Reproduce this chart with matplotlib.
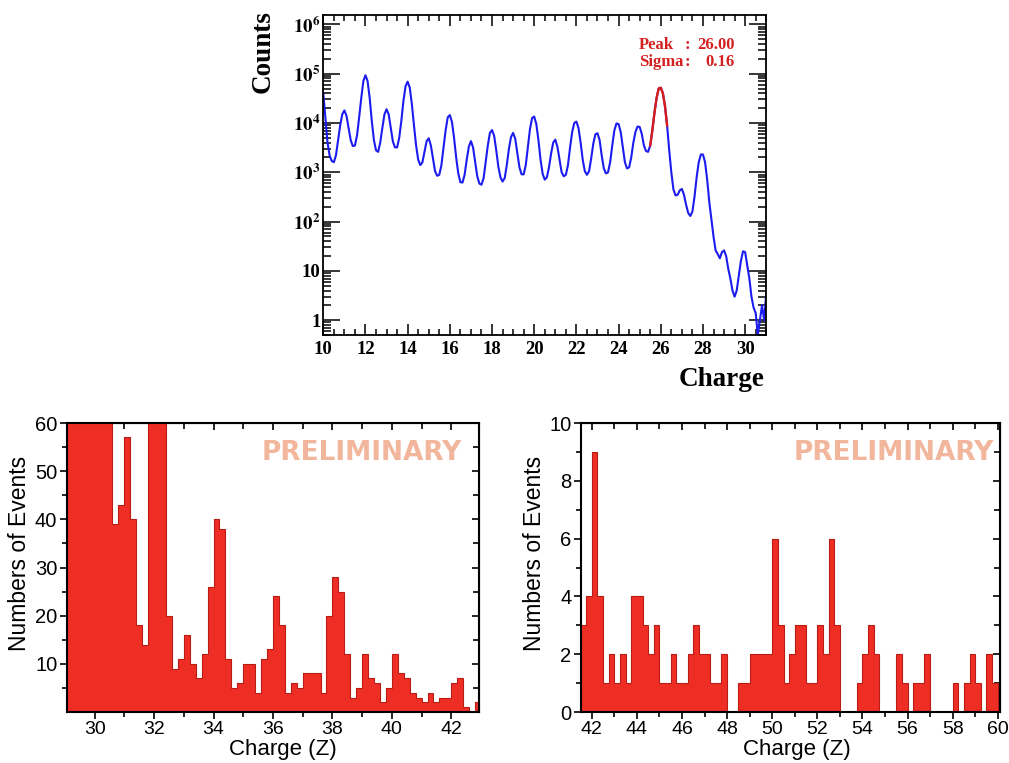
import numpy as np
import matplotlib.pyplot as plt
from matplotlib.ticker import MultipleLocator, LogLocator, NullFormatter

plt.rcParams['mathtext.fontset'] = 'stix'

# charge spectrum, counts sampled every 0.1 in charge from 10.0 to 31.0
counts_top = [
    41000, 13000, 4000, 2200, 1700, 1600, 2200, 4500, 8900, 15000,
    18000, 14000, 7900, 4500, 3400, 3500, 5600, 13000, 32000, 71000,
    93000, 71000, 32000, 11000, 4500, 2800, 2600, 4000, 7900, 15000,
    19000, 15000, 7900, 4200, 3200, 3200, 5000, 11000, 28000, 56000,
    69000, 52000, 24000, 8900, 3500, 1800, 1400, 1600, 2600, 4300,
    4900, 3500, 1900, 1050, 850, 890, 1400, 3200, 7100, 13000,
    14500, 10500, 5000, 2000, 950, 630, 620, 890, 1800, 3300,
    4300, 3200, 1600, 830, 590, 560, 760, 1600, 3500, 6300,
    7200, 5500, 2800, 1300, 790, 650, 760, 1400, 3000, 5200,
    6300, 4800, 2500, 1260, 910, 910, 1400, 3200, 7600, 12600,
    13500, 9500, 4500, 1800, 930, 710, 790, 1260, 2400, 4000,
    4600, 3300, 1800, 1000, 830, 890, 1400, 3200, 6600, 10000,
    10700, 7900, 4000, 1800, 1050, 890, 1050, 1900, 3800, 5900,
    6200, 4500, 2200, 1200, 950, 1000, 1600, 3500, 7100, 9800,
    9500, 6600, 3200, 1600, 1200, 1260, 2000, 4000, 6600, 8500,
    8300, 6000, 3500, 2700, 2600, 3500, 7100, 16000, 32000, 50000,
    52000, 40000, 22000, 8900, 2800, 1000, 450, 340, 350, 430,
    460, 350, 220, 150, 130, 160, 320, 790, 1600, 2300,
    2300, 1600, 710, 250, 110, 50, 26, 22, 18, 24,
    26, 20, 11, 7, 4, 3, 4, 8, 16, 25,
    24, 13, 7, 3, 1.8, 1.4, 0.5, 1, 2, 1,
    3.5,
]
charge_top = np.linspace(10.0, 31.0, len(counts_top))
fit_lo, fit_hi = 25.5, 26.3
peak_text = ["Peak", "26.00"]
sigma_text = ["Sigma", "0.16"]

# event histograms, 0.2 wide bins from Z=29 and 0.25 wide bins from Z=41.5
left_start, left_width = 29.0, 0.2
events_left = [
    150, 120, 95, 110, 210, 260, 190, 90,
    39, 43, 57, 40, 18, 14,
    75, 140, 95,
    20, 9, 11, 16, 10, 7, 12, 26,
    40, 38, 11, 5, 6,
    10, 10, 4, 11, 13,
    24, 18, 4, 6, 5,
    8, 8, 8, 4, 20,
    28, 25, 12, 3, 5,
    12, 7, 6, 2, 5,
    12, 8, 7, 4, 3,
    2, 4, 2, 3, 3,
    6, 7, 1, 0, 2,
]
right_start, right_width = 41.5, 0.25
events_right = [
    3, 4, 9, 4, 1, 2, 1, 2, 1, 4,
    4, 3, 2, 3, 1, 1, 2, 1, 1, 2,
    3, 2, 2, 1, 1, 2, 0, 0, 1, 1,
    2, 2, 2, 2, 6, 3, 1, 2, 3, 3,
    1, 1, 3, 2, 6, 3, 0, 0, 0, 1,
    2, 3, 2, 0, 0, 0, 2, 1, 0, 1,
    1, 2, 0, 0, 0, 0, 1, 0, 1, 2,
    1, 0, 2, 1,
]

serif_bold = dict(family='Liberation Serif', weight='bold')
sans = dict(family='Liberation Sans')

fig = plt.figure(figsize=(10.09, 7.63), dpi=100)

# ---- top: charge spectrum on log scale ----
ax1 = fig.add_axes([0.3204, 0.5609, 0.439, 0.4194])
ax1.plot(charge_top, counts_top, color='#1c1cf0', lw=1.5)
counts_arr = np.array(counts_top)
fit = (charge_top >= fit_lo - 1e-6) & (charge_top <= fit_hi + 1e-6)
ax1.plot(charge_top[fit], counts_arr[fit], color='#d81c1c', lw=1.7)
ax1.set_yscale('log')
ax1.set_xlim(10, 31)
ax1.set_ylim(0.5, 1.55e6)
ax1.set_xticks(range(10, 31, 2))
ax1.set_xticklabels([str(v) for v in range(10, 31, 2)], fontsize=13.5, **serif_bold)
ax1.xaxis.set_minor_locator(MultipleLocator(0.5))
yt = [1, 10, 1e2, 1e3, 1e4, 1e5, 1e6]
ylabels = ['1', '10'] + [r'$\mathbf{10^{%d}}$' % k for k in range(2, 7)]
ax1.set_yticks(yt)
ax1.set_yticklabels(ylabels, fontsize=13.5, **serif_bold)
ax1.yaxis.set_minor_locator(LogLocator(base=10, subs=np.arange(2, 10)))
ax1.yaxis.set_minor_formatter(NullFormatter())
ax1.tick_params(which='both', direction='in', top=True, right=True, width=1.1)
ax1.tick_params(axis='x', which='major', length=8, pad=4)
ax1.tick_params(axis='x', which='minor', length=4)
ax1.tick_params(axis='y', which='major', length=12, pad=2)
ax1.tick_params(axis='y', which='minor', length=6)
for s in ax1.spines.values():
    s.set_linewidth(1.3)
ax1.text(-0.135, 1.015, 'Counts', rotation=90, ha='center', va='top',
         transform=ax1.transAxes, fontsize=19.5, **serif_bold)
ax1.text(0.995, -0.14, 'Charge', ha='right', va='center',
         transform=ax1.transAxes, fontsize=19.5, **serif_bold)
for yy, (name, val) in zip([0.905, 0.852], [peak_text, sigma_text]):
    ax1.text(0.713, yy, name, ha='left', va='center', color='#d42020',
             transform=ax1.transAxes, fontsize=12, **serif_bold)
    ax1.text(0.822, yy, ':', ha='center', va='center', color='#d42020',
             transform=ax1.transAxes, fontsize=12, **serif_bold)
    ax1.text(0.928, yy, val, ha='right', va='center', color='#d42020',
             transform=ax1.transAxes, fontsize=12, **serif_bold)


# ---- bottom: event histograms ----
def histo_panel(rect, start, width, events, xlim, ylim, xmaj, ymaj, ymin,
                xlab_x, ylab_x, prelim_x):
    ax = fig.add_axes(rect)
    edges = start + width * np.arange(len(events) + 1)
    ax.stairs(events, edges, fill=True, color='#ee2e24')
    ax.stairs(events, edges, color='#b81c15', lw=0.8, baseline=0)
    ax.set_xlim(*xlim)
    ax.set_ylim(*ylim)
    ax.set_xticks(xmaj)
    ax.set_xticklabels([str(v) for v in xmaj], fontsize=14, **sans)
    ax.set_yticks(ymaj)
    ax.set_yticklabels([str(v) for v in ymaj], fontsize=14.5, **sans)
    ax.xaxis.set_minor_locator(MultipleLocator(1))
    ax.set_yticks(ymin, minor=True)
    ax.tick_params(which='both', direction='out', top=False, right=False,
                   width=1.2)
    ax.tick_params(axis='x', which='both', pad=1.5)
    ax.tick_params(axis='y', which='both', pad=2)
    ax.tick_params(which='major', length=5)
    ax.tick_params(which='minor', length=3.5)
    for s in ax.spines.values():
        s.set_linewidth(1.5)
    # mirrored ticks pointing inwards on top and right
    top = ax.secondary_xaxis('top')
    top.set_xticks(xmaj)
    top.xaxis.set_minor_locator(MultipleLocator(1))
    top.tick_params(which='both', direction='in', labeltop=False, width=1.2)
    top.tick_params(which='major', length=5)
    top.tick_params(which='minor', length=4)
    right = ax.secondary_yaxis('right')
    right.set_yticks(ymaj)
    right.set_yticks(ymin, minor=True)
    right.tick_params(which='both', direction='in', labelright=False, width=1.2)
    right.tick_params(which='major', length=5)
    right.tick_params(which='minor', length=4)
    ax.set_xlabel('Charge (Z)', fontsize=16, **sans)
    ax.xaxis.set_label_coords(xlab_x, -0.093)
    ax.set_ylabel('Numbers of Events', fontsize=16.5, **sans)
    ax.yaxis.set_label_coords(ylab_x, 0.55)
    ax.text(prelim_x, 0.895, 'PRELIMINARY', ha='right', va='center',
            transform=ax.transAxes, fontsize=19, fontweight='bold',
            family='DejaVu Sans', color='#f2b69c')
    return ax


histo_panel([0.0664, 0.0668, 0.4083, 0.3788], left_start, left_width,
            events_left, (29.07, 42.93), (0, 60), list(range(30, 43, 2)),
            list(range(10, 61, 10)), list(range(5, 60, 10)),
            0.525, -0.087, 0.96)
histo_panel([0.5758, 0.0668, 0.4153, 0.3788], right_start, right_width,
            events_right, (41.52, 60.1), (0, 10), list(range(42, 61, 2)),
            list(range(0, 11, 2)), list(range(1, 10, 2)),
            0.515, -0.084, 0.985)

fig.savefig('out.png', dpi=100)
